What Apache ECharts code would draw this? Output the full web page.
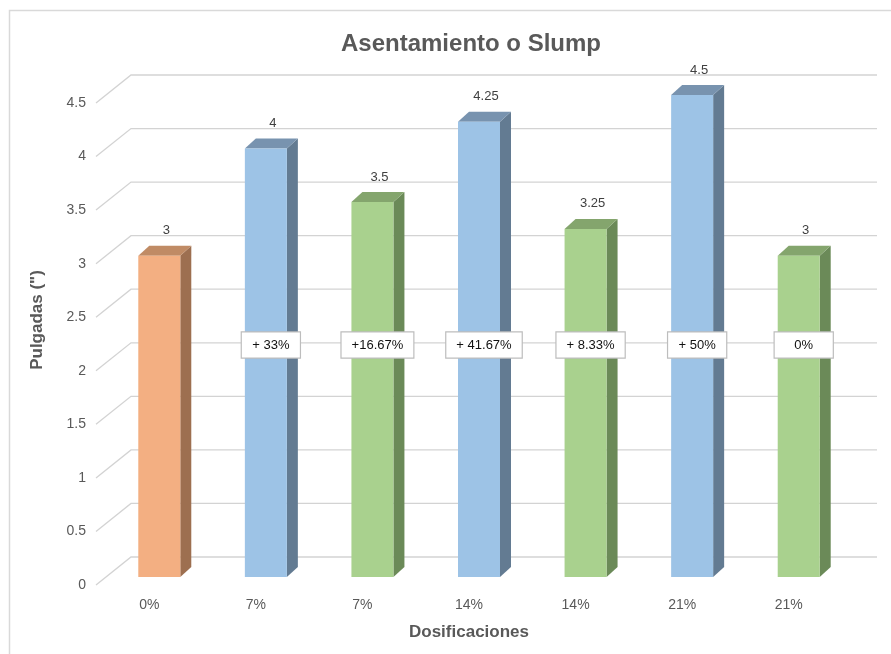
<!DOCTYPE html>
<html>
<head>
<meta charset="utf-8">
<title>Asentamiento o Slump</title>
<script src="https://cdn.jsdelivr.net/npm/echarts@6.0.0/dist/echarts.min.js"></script>
<style>
  html, body { margin: 0; padding: 0; background: #ffffff; }
  #chart { width: 891px; height: 654px; }
</style>
</head>
<body>
<div id="chart"></div>
<script>
// Dosage categories and measured slump (inches)
const categories = ['0%', '7%', '7%', '14%', '14%', '21%', '21%'];
const slumpValues = [3, 4, 3.5, 4.25, 3.25, 4.5, 3];
// Change relative to the reference mix
const changeLabels = ['', '+ 33%', '+16.67%', '+ 41.67%', '+ 8.33%', '+ 50%', '0%'];
// Which mix each bar belongs to
const mixKinds = ['patron', 'mezclaA', 'mezclaB', 'mezclaA', 'mezclaB', 'mezclaA', 'mezclaB'];
// Value-axis ticks
const yTicks = [0, 0.5, 1, 1.5, 2, 2.5, 3, 3.5, 4, 4.5];

const palette = {
  patron:  { front: '#F3AF82', top: '#C08B65', side: '#9D6F50' },
  mezclaA: { front: '#9DC3E6', top: '#7893AF', side: '#637B92' },
  mezclaB: { front: '#A9D18E', top: '#84A56D', side: '#6B8A58' }
};

const FONT = '"Liberation Sans", Arial, sans-serif';
const GRAY_TEXT = '#595959';

// 3D projection offsets
const WALL_DX = 35, WALL_DY = -28;     // front plane -> back wall
const BAR_DX = 10, BAR_DY = -8;        // front plane -> bar front face
const BAR_W = 42;
const DEPTH_DX = 11, DEPTH_DY = -10;   // bar thickness
const CHANGE_LEVEL = 2.24;             // height of the change boxes

const measureCtx = document.createElement('canvas').getContext('2d');
measureCtx.font = '13px ' + FONT;

function renderWall(params, api) {
  const v = api.value(1);
  const band = api.size([1, 0])[0];
  const first = api.coord([0, v]);
  const last = api.coord([categories.length - 1, v]);
  const x0 = first[0] - band / 2;
  const x1 = last[0] + band / 2;
  const y = first[1];
  return {
    type: 'polyline',
    shape: { points: [[x0, y], [x0 + WALL_DX, y + WALL_DY], [x1 + WALL_DX, y + WALL_DY]] },
    style: { stroke: '#D3D3D3', lineWidth: 1.3, fill: null }
  };
}

function renderBar(params, api) {
  const i = api.value(0);
  const v = api.value(1);
  const topPt = api.coord([i, v]);
  const basePt = api.coord([i, 0]);
  const cx = topPt[0] + BAR_DX;
  const L = cx - BAR_W / 2, R = cx + BAR_W / 2;
  const T = topPt[1] + BAR_DY, B = basePt[1] + BAR_DY;
  const col = palette[mixKinds[i]];
  const children = [
    {
      type: 'polygon',
      shape: { points: [[R, T], [R + DEPTH_DX, T + DEPTH_DY], [R + DEPTH_DX, B + DEPTH_DY], [R, B]] },
      style: { fill: col.side }
    },
    {
      type: 'polygon',
      shape: { points: [[L, T], [L + DEPTH_DX, T + DEPTH_DY], [R + DEPTH_DX, T + DEPTH_DY], [R, T]] },
      style: { fill: col.top }
    },
    {
      type: 'rect',
      shape: { x: L, y: T, width: BAR_W, height: B - T },
      style: { fill: col.front }
    },
    {
      type: 'text',
      style: {
        text: String(v), x: cx + 7, y: T + DEPTH_DY - 15,
        align: 'center', verticalAlign: 'middle',
        font: '13px ' + FONT, fill: '#404040'
      }
    }
  ];
  const change = changeLabels[i];
  if (change) {
    const ly = api.coord([i, CHANGE_LEVEL])[1];
    const tw = measureCtx.measureText(change).width;
    const padX = Math.max(10, (58 - tw) / 2);
    children.push({
      type: 'text',
      z2: 10,
      style: {
        text: change, x: cx + 5, y: ly,
        align: 'center', verticalAlign: 'middle',
        font: '13px ' + FONT, fill: '#111111',
        backgroundColor: '#ffffff', borderColor: '#BDBDBD', borderWidth: 1.2,
        padding: [6, padX, 6, padX]
      }
    });
  }
  return { type: 'group', children: children };
}

const chart = echarts.init(document.getElementById('chart'), null, { renderer: 'canvas' });

chart.setOption({
  backgroundColor: '#ffffff',
  animation: false,
  title: {
    text: 'Asentamiento o Slump',
    left: 336,
    top: 27,
    textStyle: { fontFamily: FONT, fontSize: 24, fontWeight: 'bold', color: GRAY_TEXT }
  },
  graphic: [
    {
      type: 'polyline',
      shape: { points: [[9.5, 660], [9.5, 10.5], [900, 10.5]] },
      style: { stroke: '#D9D9D9', lineWidth: 1.5, fill: null },
      silent: true
    }
  ],
  grid: { left: 96, right: 49, top: 103, bottom: 69 },
  xAxis: {
    type: 'category',
    data: categories,
    name: 'Dosificaciones',
    nameLocation: 'middle',
    nameGap: 39,
    nameTextStyle: { fontFamily: FONT, fontSize: 17, fontWeight: 'bold', color: GRAY_TEXT },
    axisLine: { show: false },
    axisTick: { show: false },
    axisLabel: { fontFamily: FONT, fontSize: 14, color: GRAY_TEXT, margin: 13 },
    splitLine: { show: false }
  },
  yAxis: {
    type: 'value',
    min: 0,
    max: 4.5,
    interval: 0.5,
    name: 'Pulgadas (")',
    nameLocation: 'middle',
    nameGap: 50,
    nameTextStyle: {
      fontFamily: FONT, fontSize: 17, fontWeight: 'bold', color: GRAY_TEXT,
      padding: [0, 0, 0, 48]
    },
    axisLine: { show: false },
    axisTick: { show: false },
    axisLabel: { fontFamily: FONT, fontSize: 14, color: GRAY_TEXT, margin: 10 },
    splitLine: { show: false }
  },
  series: [
    {
      type: 'custom',
      name: 'pared',
      renderItem: renderWall,
      clip: false,
      silent: true,
      z: 1,
      data: yTicks.map(function (t) { return [0, t]; })
    },
    {
      type: 'custom',
      name: 'Asentamiento',
      renderItem: renderBar,
      clip: false,
      z: 2,
      data: slumpValues.map(function (v, i) { return [i, v]; })
    }
  ]
});
</script>
</body>
</html>
